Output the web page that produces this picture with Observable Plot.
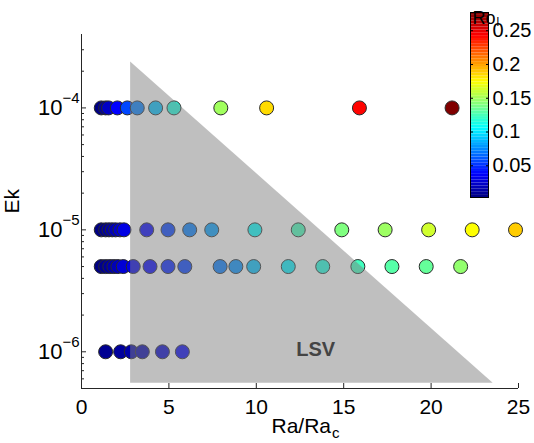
<!DOCTYPE html>
<html><head><meta charset="utf-8">
<script src="https://cdn.jsdelivr.net/npm/d3@7"></script>
<script src="https://cdn.jsdelivr.net/npm/@observablehq/plot@0.6"></script>
<style>
body{margin:0;background:#fff;}
#wrap{position:relative;width:534px;height:443px;}
#wrap svg{position:absolute;left:0;top:0;}
</style></head><body><div id="wrap"></div>
<script>
// ---- data ----
const ekRow1 = 1e-4;
const raRow1 = [1.13, 1.38, 1.55, 2.05, 2.62, 3.19, 4.24, 5.29, 7.97, 10.59, 15.9, 21.2];
const roRow1 = [0.004, 0.012, 0.022, 0.037, 0.056, 0.071, 0.089, 0.114, 0.149, 0.184, 0.242, 0.277];

const ekRow2 = 1e-5;
const raRow2 = [1.13, 1.38, 1.57, 1.76, 1.95, 2.20, 2.43, 3.73, 4.95, 6.19, 7.45, 9.92, 12.40, 14.89, 17.37, 19.86, 22.35, 24.83];
const roRow2 = [0.004, 0.007, 0.010, 0.014, 0.018, 0.024, 0.030, 0.036, 0.054, 0.071, 0.080, 0.106, 0.124, 0.140, 0.148, 0.162, 0.174, 0.188];

const ekRow3 = 5e-6;
const raRow3 = [1.13, 1.38, 1.62, 1.85, 2.08, 2.39, 2.96, 3.92, 4.95, 5.91, 7.93, 8.83, 9.85, 11.83, 13.80, 15.81, 17.76, 19.72, 21.69];
const roRow3 = [0.004, 0.007, 0.010, 0.014, 0.018, 0.026, 0.030, 0.036, 0.046, 0.054, 0.070, 0.076, 0.089, 0.102, 0.114, 0.123, 0.129, 0.133, 0.145];

const ekRow4 = 1e-6;
const raRow4 = [1.38, 2.24, 2.85, 3.48, 4.63, 5.77];
const roRow4 = [0.008, 0.011, 0.014, 0.015, 0.024, 0.034];

// LSV region (triangle) and its label
const lsvX = [2.81, 23.55];
const lsvTop = [2.38e-4, 5.52e-7];
const lsvBottom = 5.52e-7;
const lsvLabel = [{x: 13.4, y: 1e-6, text: "LSV"}];

// axes
const xDomain = [0, 25];
const yDomain = [5e-7, 4e-4];
const xTicks = [0, 5, 10, 15, 20, 25];
const yMajor = [1e-6, 1e-5, 1e-4];
const yMajorExp = ["\u22126", "\u22125", "\u22124"];
const yMinor = [6e-7, 7e-7, 8e-7, 9e-7, 2e-6, 3e-6, 4e-6, 5e-6, 6e-6, 7e-6, 8e-6, 9e-6,
                2e-5, 3e-5, 4e-5, 5e-5, 6e-5, 7e-5, 8e-5, 9e-5, 2e-4, 3e-4];
const roDomain = [0.003, 0.277];
const cbTicks = [0.05, 0.1, 0.15, 0.2, 0.25];
const cbTickLabels = ["0.05", "0.1", "0.15", "0.2", "0.25"];

// ---- build tables ----
const rows = [[ekRow1, raRow1, roRow1], [ekRow2, raRow2, roRow2], [ekRow3, raRow3, roRow3], [ekRow4, raRow4, roRow4]];
const points = rows.flatMap(([ek, ra, ro]) => ra.map((r, i) => ({ra: r, ek, ro: ro[i]})));
const lsvRegion = lsvX.map((x, i) => ({x, y1: lsvBottom, y2: lsvTop[i]}));

// MATLAB jet colormap
const clamp = v => Math.max(0, Math.min(1, v));
const jet = t => d3.rgb(255 * clamp(1.5 - Math.abs(4 * t - 3)), 255 * clamp(1.5 - Math.abs(4 * t - 2)), 255 * clamp(1.5 - Math.abs(4 * t - 1))).formatHex();
const colorOpts = {type: "linear", domain: roDomain, interpolate: jet};

const FONT = "'Liberation Sans', Arial, Helvetica, sans-serif";
const AX = "#262626";

const main = Plot.plot({
  width: 534, height: 443,
  marginLeft: 81, marginRight: 16, marginTop: 34, marginBottom: 55,
  style: {fontFamily: FONT, fontSize: "21px", color: "#000", background: "transparent", overflow: "visible"},
  x: {domain: xDomain, label: null},
  y: {type: "log", domain: yDomain, label: null},
  color: colorOpts,
  marks: [
    Plot.dot(points, {x: "ra", y: "ek", fill: "ro", r: 7, stroke: "#2a2a2a", strokeWidth: 1}),
    Plot.areaY(lsvRegion, {x: "x", y1: "y1", y2: "y2", fill: "#808080", fillOpacity: 0.5}),
    Plot.text(lsvLabel, {x: "x", y: "y", text: "text", fill: "#444", fontWeight: "bold", fontSize: 20, dy: -2}),
    Plot.ruleX([0], {stroke: AX}),
    Plot.ruleY([yDomain[0]], {stroke: AX}),
    Plot.axisX({ticks: xTicks, tickSize: -5, tickPadding: 16, stroke: AX, fontSize: 21, tickFormat: d => String(d)}),
    Plot.axisY({ticks: yMajor, tickSize: -5, stroke: AX, tickFormat: () => ""}),
    Plot.axisY({ticks: yMinor, tickSize: -3, stroke: AX, tickFormat: () => ""}),
    Plot.text(yMajor, {y: d => d, text: () => "10", frameAnchor: "left", textAnchor: "end", dx: -19, fontSize: 22}),
    Plot.text(yMajor, {y: d => d, text: (d, i) => yMajorExp[i], frameAnchor: "left", textAnchor: "start", dx: -19, dy: -10, fontSize: 15}),
    Plot.text(["Ek"], {frameAnchor: "left", rotate: -90, dx: -69, dy: 2, fontSize: 21}),
    Plot.text(["Ra/Ra"], {frameAnchor: "bottom", textAnchor: "end", dx: 31, dy: 44, fontSize: 21}),
    Plot.text(["c"], {frameAnchor: "bottom", textAnchor: "start", dx: 32, dy: 49, fontSize: 15})
  ]
});

// colorbar
const cbBands = d3.range(64).map(i => {
  const a = roDomain[0] + (roDomain[1] - roDomain[0]) * i / 64;
  const b = roDomain[0] + (roDomain[1] - roDomain[0]) * (i + 1) / 64;
  return {a, b, v: (a + b) / 2};
});
const cb = Plot.plot({
  width: 534, height: 443,
  marginLeft: 470, marginRight: 46, marginTop: 12, marginBottom: 246,
  style: {fontFamily: FONT, fontSize: "20px", color: "#000", background: "transparent", overflow: "visible"},
  x: {domain: [0, 1], axis: null},
  y: {domain: roDomain, label: null, axis: null},
  color: colorOpts,
  marks: [
    Plot.rect(cbBands, {x1: 0, x2: 1, y1: "a", y2: "b", fill: "v"}),
    Plot.frame({stroke: "#000"}),
    Plot.axisY({anchor: "right", ticks: cbTicks, tickSize: -3, tickPadding: 7, stroke: "#000", fontSize: 20, textAnchor: "start", tickFormat: (d) => cbTickLabels[cbTicks.indexOf(d)]}),
    Plot.axisY({anchor: "left", ticks: cbTicks, tickSize: -3, stroke: "#000", tickFormat: () => ""}),
    Plot.text(["Ro"], {frameAnchor: "top-left", textAnchor: "start", dx: 2, dy: -1, fontSize: 18}),
    Plot.text(["l"], {frameAnchor: "top-left", textAnchor: "start", dx: 26, dy: 5, fontSize: 12})
  ]
});

const wrap = document.getElementById("wrap");
wrap.appendChild(main);
wrap.appendChild(cb);
</script>
</body></html>
